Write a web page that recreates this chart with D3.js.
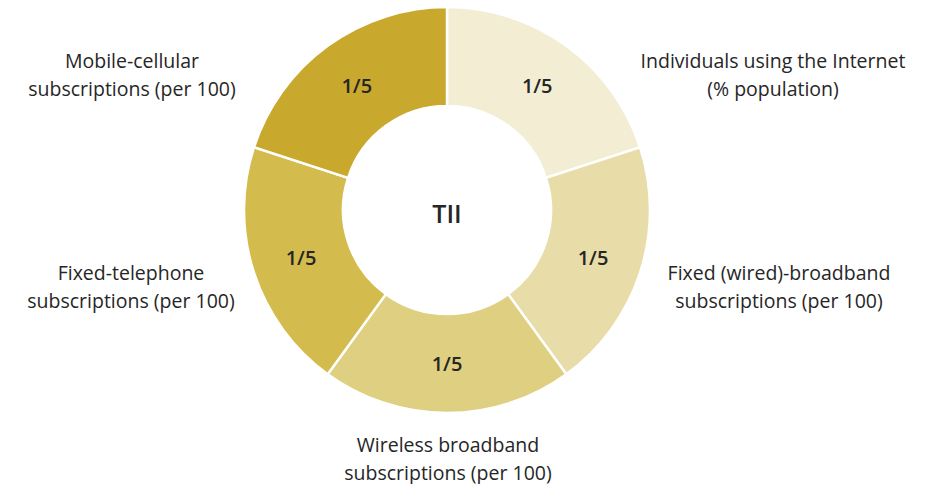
<!DOCTYPE html>
<html>
<head>
<meta charset="utf-8">
<script src="https://cdn.jsdelivr.net/npm/d3@7"></script>
<style>
  html, body { margin: 0; padding: 0; background: #fff; }
  svg { display: block; }
  text { font-family: "Open Sans", Lato, sans-serif; fill: #262626; }
</style>
</head>
<body>
<svg id="chart" width="939" height="484"></svg>
<script>
// Data
const categories = [
  "Individuals using the Internet|(% population)",
  "Fixed (wired)-broadband|subscriptions (per 100)",
  "Wireless broadband|subscriptions (per 100)",
  "Fixed-telephone|subscriptions (per 100)",
  "Mobile-cellular|subscriptions (per 100)"
];
const weights = [1, 1, 1, 1, 1];
const weightLabels = ["1/5", "1/5", "1/5", "1/5", "1/5"];
const colors = ["#f3edd3", "#e8dda9", "#dfcf80", "#d4bb4d", "#c9a92d"];
const centerLabel = "TII";
// label anchor positions (layout)
const labelPos = [
  {x: 773, y: 60}, {x: 779, y: 272}, {x: 448, y: 444}, {x: 131, y: 272}, {x: 132, y: 60}
];

const svg = d3.select("#chart");
const cx = 447, cy = 210, rOuter = 203, rInner = 104;
const g = svg.append("g").attr("transform", `translate(${cx},${cy})`);

const data = categories.map((c, i) => ({name: c, w: weights[i], lab: weightLabels[i], color: colors[i], pos: labelPos[i]}));
const pie = d3.pie().value(d => d.w).sort(null);
const arc = d3.arc().innerRadius(rInner).outerRadius(rOuter);
const arcs = pie(data);

g.selectAll("path").data(arcs).join("path")
  .attr("d", arc)
  .attr("fill", d => d.data.color)
  .attr("stroke", "#ffffff")
  .attr("stroke-width", 2.5);

g.selectAll("text.val").data(arcs).join("text")
  .attr("class", "val")
  .attr("x", d => arc.centroid(d)[0])
  .attr("y", d => arc.centroid(d)[1])
  .attr("text-anchor", "middle")
  .attr("dominant-baseline", "central")
  .style("font-size", "20px")
  .style("font-weight", 600)
  .text(d => d.data.lab);

g.append("text")
  .attr("x", 0).attr("y", 3)
  .attr("text-anchor", "middle")
  .attr("dominant-baseline", "central")
  .style("font-size", "25px")
  .style("font-weight", 600)
  .text(centerLabel);

const lbl = svg.selectAll("text.cat").data(data).join("text")
  .attr("class", "cat")
  .attr("text-anchor", "middle")
  .style("font-size", "19.5px")
  .style("font-weight", 500);
lbl.each(function(d) {
  const lines = d.name.split("|");
  d3.select(this).selectAll("tspan").data(lines).join("tspan")
    .attr("x", d.pos.x)
    .attr("y", (l, i) => d.pos.y + i * 28)
    .attr("dominant-baseline", "central")
    .text(l => l);
});
</script>
</body>
</html>
